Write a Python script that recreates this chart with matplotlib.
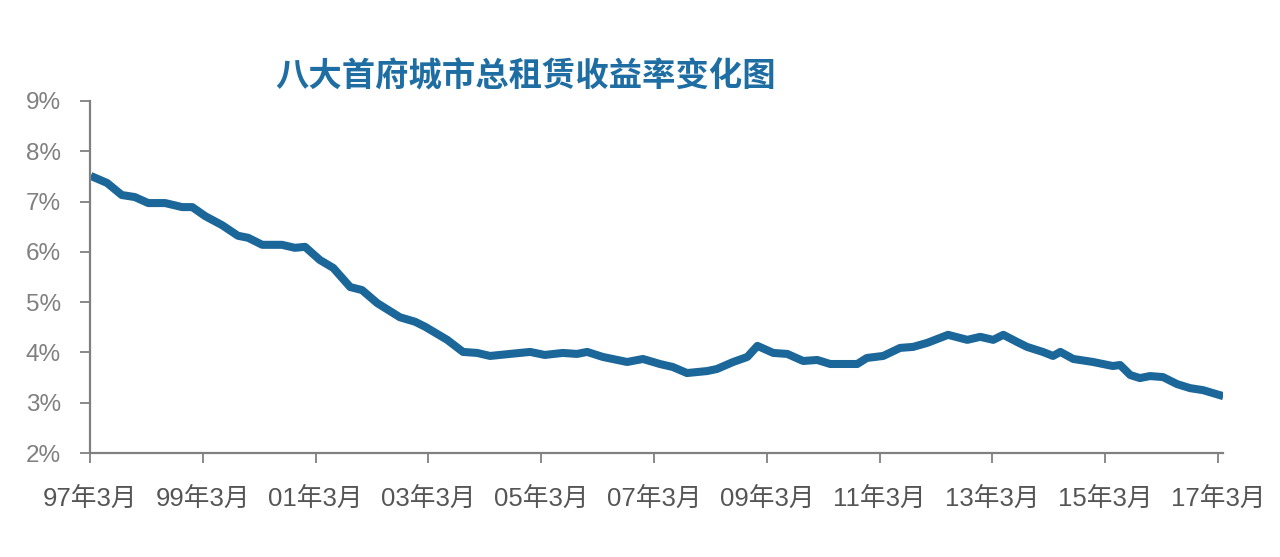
import matplotlib
matplotlib.use('Agg')
import matplotlib.pyplot as plt
import numpy as np

# 数据：年份（小数）和收益率（%）
years = [1997.18, 1997.47, 1997.73, 1997.96, 1998.20, 1998.50, 1998.80, 1998.98,
         1999.21, 1999.51, 1999.79, 1999.97, 2000.22, 2000.57, 2000.80, 2000.98,
         2001.24, 2001.48, 2001.78, 2001.99, 2002.26, 2002.66, 2002.93, 2003.11,
         2003.50, 2003.78, 2004.03, 2004.26, 2004.61, 2004.97, 2005.23, 2005.55,
         2005.80, 2005.98, 2006.26, 2006.69, 2006.97, 2007.27, 2007.50, 2007.75,
         2008.11, 2008.28, 2008.57, 2008.82, 2009.00, 2009.28, 2009.53, 2009.81,
         2010.06, 2010.29, 2010.77, 2010.94, 2011.23, 2011.53, 2011.76, 2012.01,
         2012.38, 2012.72, 2012.95, 2013.18, 2013.36, 2013.60, 2013.78, 2014.06,
         2014.24, 2014.37, 2014.60, 2014.95, 2015.30, 2015.43, 2015.61, 2015.78,
         2015.96, 2016.19, 2016.44, 2016.67, 2016.90, 2017.26]
yields = [7.51, 7.37, 7.13, 7.09, 6.97, 6.97, 6.89, 6.89,
          6.71, 6.53, 6.32, 6.28, 6.14, 6.14, 6.08, 6.10,
          5.84, 5.68, 5.30, 5.24, 4.98, 4.70, 4.61, 4.51,
          4.25, 4.01, 3.99, 3.93, 3.97, 4.01, 3.95, 3.99,
          3.97, 4.01, 3.91, 3.81, 3.87, 3.77, 3.71, 3.59,
          3.63, 3.67, 3.81, 3.91, 4.13, 3.99, 3.97, 3.83,
          3.85, 3.77, 3.77, 3.89, 3.93, 4.09, 4.11, 4.19,
          4.35, 4.25, 4.31, 4.25, 4.35, 4.21, 4.11, 4.01,
          3.93, 4.01, 3.87, 3.81, 3.73, 3.75, 3.55, 3.49,
          3.53, 3.51, 3.37, 3.29, 3.25, 3.13]

tick_years = [1997, 1999, 2001, 2003, 2005, 2007, 2009, 2011, 2013, 2015, 2017]
tick_labels = [f"{y % 100:02d}年3月" for y in tick_years]
y_ticks = [2, 3, 4, 5, 6, 7, 8, 9]

fig = plt.figure(figsize=(12.8, 5.57), dpi=100)
ax = fig.add_axes([0.0703, 0.1867, 0.885, 0.632])

ax.plot(years, yields, color='#1c6799', linewidth=5.8, solid_capstyle='butt',
        solid_joinstyle='round')

ax.set_xlim(1997.167, 2017.25)
ax.set_ylim(2, 9)
ax.set_xticks([y + 2 / 12 for y in tick_years])
ax.set_xticklabels(tick_labels, family=['Liberation Sans', 'Noto Sans CJK SC'],
                   fontsize=18.5, color='#555555')
ax.set_yticks(y_ticks)
ax.set_yticklabels([f"{v}%" for v in y_ticks], family='Liberation Sans',
                   fontsize=17.5, color='#808080')

for s in ['top', 'right']:
    ax.spines[s].set_visible(False)
for s in ['left', 'bottom']:
    ax.spines[s].set_color('#808080')
    ax.spines[s].set_linewidth(1.6)
ax.tick_params(axis='both', direction='out', color='#808080', width=1.3, length=7)
ax.tick_params(axis='y', pad=14)
ax.tick_params(axis='x', pad=17)

fig.text(0.215, 0.862, '八大首府城市总租赁收益率变化图', family='Noto Sans CJK SC',
         fontsize=24, color='#1f6ea3', fontweight='bold', va='center')

fig.savefig('out.png', dpi=100, facecolor='white')
